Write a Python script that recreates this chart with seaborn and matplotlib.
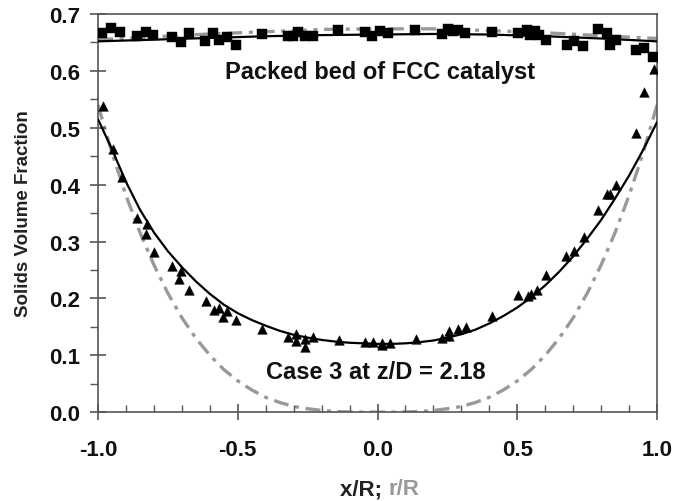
import matplotlib
matplotlib.use("Agg")
import matplotlib.pyplot as plt
from matplotlib.ticker import MultipleLocator, FixedLocator, FormatStrFormatter
import seaborn as sns

# ---- data ----
# packed bed of FCC catalyst (squares)
bed_x = [-0.985, -0.953, -0.921, -0.862, -0.829, -0.802, -0.736, -0.703, -0.673, -0.617,
         -0.587, -0.567, -0.540, -0.507, -0.414, -0.321, -0.301, -0.283, -0.259, -0.230,
         -0.140, -0.045, -0.019, 0.009, 0.039, 0.134, 0.229, 0.253, 0.271, 0.289,
         0.313, 0.409, 0.504, 0.534, 0.563, 0.546, 0.576, 0.603, 0.677, 0.703,
         0.736, 0.790, 0.820, 0.852, 0.832, 0.925, 0.953, 0.987]
bed_y = [0.666, 0.675, 0.668, 0.662, 0.668, 0.664, 0.660, 0.650, 0.667, 0.652,
         0.667, 0.654, 0.660, 0.646, 0.665, 0.662, 0.662, 0.668, 0.662, 0.662,
         0.672, 0.668, 0.662, 0.670, 0.666, 0.672, 0.665, 0.674, 0.670, 0.672,
         0.666, 0.668, 0.667, 0.672, 0.671, 0.664, 0.664, 0.655, 0.646, 0.652,
         0.643, 0.674, 0.667, 0.655, 0.646, 0.637, 0.641, 0.625]

# Case 3 at z/D = 2.18 (triangles)
case_x = [-0.981, -0.947, -0.915, -0.862, -0.826, -0.829, -0.800, -0.734, -0.703, -0.709,
          -0.673, -0.615, -0.585, -0.567, -0.554, -0.537, -0.506, -0.414, -0.321, -0.292,
          -0.292, -0.259, -0.259, -0.230, -0.137, -0.045, -0.015, 0.015, 0.015, 0.045,
          0.138, 0.230, 0.257, 0.257, 0.289, 0.317, 0.410, 0.502, 0.537, 0.549,
          0.571, 0.603, 0.674, 0.704, 0.740, 0.790, 0.820, 0.832, 0.852, 0.925,
          0.955, 0.988]
case_y = [0.538, 0.462, 0.414, 0.342, 0.330, 0.314, 0.282, 0.257, 0.248, 0.235,
          0.214, 0.195, 0.180, 0.183, 0.168, 0.178, 0.162, 0.147, 0.133, 0.138,
          0.125, 0.128, 0.115, 0.133, 0.127, 0.124, 0.124, 0.122, 0.118, 0.121,
          0.128, 0.131, 0.142, 0.134, 0.147, 0.149, 0.169, 0.206, 0.204, 0.207,
          0.215, 0.241, 0.275, 0.284, 0.308, 0.355, 0.384, 0.383, 0.399, 0.490,
          0.563, 0.604]

# model curves
curve_x = [-1.0, -0.95, -0.9, -0.85, -0.8, -0.75, -0.7, -0.65, -0.6, -0.55, -0.5,
           -0.45, -0.4, -0.35, -0.3, -0.25, -0.2, -0.15, -0.1, -0.05, 0.0,
           0.05, 0.1, 0.15, 0.2, 0.25, 0.3, 0.35, 0.4, 0.45, 0.5,
           0.55, 0.6, 0.65, 0.7, 0.75, 0.8, 0.85, 0.9, 0.95, 1.0]
case_fit = [0.515, 0.462, 0.405, 0.356, 0.316, 0.283, 0.255, 0.230, 0.208, 0.189, 0.174,
            0.162, 0.152, 0.143, 0.136, 0.131, 0.127, 0.124, 0.122, 0.121, 0.120,
            0.120, 0.121, 0.123, 0.126, 0.131, 0.137, 0.145, 0.156, 0.169, 0.184,
            0.202, 0.223, 0.247, 0.274, 0.305, 0.338, 0.376, 0.416, 0.461, 0.510]
case_radial = [0.540, 0.456, 0.381, 0.316, 0.259, 0.209, 0.166, 0.130, 0.100, 0.075, 0.055,
               0.039, 0.026, 0.017, 0.010, 0.006, 0.003, 0.001, 0.0003, 0.0, 0.0,
               0.0, 0.0003, 0.001, 0.003, 0.006, 0.010, 0.017, 0.026, 0.039, 0.055,
               0.075, 0.100, 0.130, 0.166, 0.209, 0.259, 0.316, 0.381, 0.456, 0.540]

bed_curve_x = [-1.0, -0.8, -0.6, -0.4, -0.2, 0.0, 0.2, 0.4, 0.6, 0.8, 1.0]
bed_fit = [0.652, 0.655, 0.658, 0.661, 0.663, 0.664, 0.665, 0.664, 0.661, 0.657, 0.652]
bed_radial = [0.655, 0.660, 0.665, 0.669, 0.673, 0.674, 0.674, 0.671, 0.667, 0.662, 0.657]

x_ticks = [-1.0, -0.5, 0.0, 0.5, 1.0]
y_ticks = [0.0, 0.1, 0.2, 0.3, 0.4, 0.5, 0.6, 0.7]

# ---- styling ----
sns.set_theme(style="white")
GRAY = "#999999"
SPINE = "#555555"
plt.rcParams.update({
    'font.family': ['Liberation Sans', 'DejaVu Sans'],
    'font.weight': 'bold',
    'axes.unicode_minus': False,
    'axes.linewidth': 1.2,
    'axes.edgecolor': SPINE,
    'axes.axisbelow': False,
    'xtick.bottom': True, 'ytick.left': True,
    'xtick.top': False, 'ytick.right': False,
    'xtick.color': SPINE, 'ytick.color': SPINE,
    'xtick.labelcolor': '#111111', 'ytick.labelcolor': '#111111',
    'xtick.major.size': 12, 'ytick.major.size': 12,
    'xtick.major.width': 1.2, 'ytick.major.width': 1.2,
    'xtick.minor.size': 5, 'ytick.minor.size': 6,
    'xtick.minor.width': 1.0, 'ytick.minor.width': 1.0,
})

dashdot = (0, (4.5, 2.0, 1.2, 2.0))

fig = plt.figure(figsize=(6.76, 5.02), dpi=100)
ax = fig.add_axes([0.145, 0.177, 0.827, 0.793])

sns.lineplot(x=curve_x, y=case_radial, ax=ax, color=GRAY, lw=2.4,
             linestyle=dashdot, estimator=None, sort=False, zorder=2)
sns.lineplot(x=bed_curve_x, y=bed_radial, ax=ax, color=GRAY, lw=2.4,
             linestyle=dashdot, estimator=None, sort=False, zorder=2)
sns.lineplot(x=curve_x, y=case_fit, ax=ax, color="black", lw=1.6,
             estimator=None, sort=False, zorder=3)
sns.lineplot(x=bed_curve_x, y=bed_fit, ax=ax, color="black", lw=1.6,
             estimator=None, sort=False, zorder=3)
sns.scatterplot(x=case_x, y=case_y, ax=ax, marker="^", color="black", s=48,
                edgecolor="black", linewidth=0.3, zorder=4)
sns.scatterplot(x=bed_x, y=bed_y, ax=ax, marker="s", color="black", s=44,
                edgecolor="black", linewidth=0.3, zorder=4)

ax.set_xlim(-1.0, 1.0)
ax.set_ylim(0.0, 0.7)
ax.xaxis.set_major_locator(FixedLocator(x_ticks))
ax.yaxis.set_major_locator(FixedLocator(y_ticks))
ax.xaxis.set_major_formatter(FormatStrFormatter("%.1f"))
ax.yaxis.set_major_formatter(FormatStrFormatter("%.1f"))
ax.xaxis.set_minor_locator(MultipleLocator(0.1))
ax.yaxis.set_minor_locator(MultipleLocator(0.05))

for side in ["left", "right", "top", "bottom"]:
    ax.spines[side].set_visible(True)

ax.tick_params(axis="both", which="both", bottom=True, left=True, top=False, right=False)
ax.tick_params(axis="both", which="major", direction="inout", length=12, width=1.2,
               color=SPINE, labelsize=16)
ax.tick_params(axis="y", which="major", pad=7)
ax.tick_params(axis="x", which="major", pad=13)
ax.tick_params(axis="x", which="minor", direction="in", length=5, width=1.0, color=SPINE)
ax.tick_params(axis="y", which="minor", direction="out", length=6, width=1.0, color=SPINE)

ax.set_ylabel("Solids Volume Fraction", fontsize=13.5, fontweight="bold", color="#222222")
ax.yaxis.set_label_coords(-0.118, 0.5)
ax.set_xlabel("")
fig.text(0.574, 0.024, "x/R; ", ha="right", va="center", fontsize=16,
         fontweight="bold", color="#222222")
fig.text(0.574, 0.024, "r/R", ha="left", va="center", fontsize=16,
         fontweight="bold", color=GRAY)

ax.text(0.01, 0.599, "Packed bed of FCC catalyst", ha="center", va="center",
        fontsize=17, fontweight="bold", color="#111111")
ax.text(-0.005, 0.072, "Case 3 at z/D = 2.18", ha="center", va="center",
        fontsize=17, fontweight="bold", color="#111111")

# make sure every tick mark is actually drawn
fig.canvas.draw()
for axis in (ax.xaxis, ax.yaxis):
    for tick in axis.get_major_ticks():
        tick.tick1line.set_visible(True)
        tick.tick1line.set_markersize(12)
        tick.tick1line.set_markeredgewidth(1.2)
        tick.tick1line.set_markeredgecolor(SPINE)
        tick.tick1line.set_clip_on(False)
        tick.tick1line.set_zorder(6)
        tick.tick1line.set_alpha(1.0)
    for tick in axis.get_minor_ticks():
        tick.tick1line.set_visible(True)
        tick.tick1line.set_markersize(5 if axis is ax.xaxis else 6)
        tick.tick1line.set_markeredgewidth(1.0)
        tick.tick1line.set_markeredgecolor(SPINE)
        tick.tick1line.set_clip_on(False)
        tick.tick1line.set_zorder(6)
        tick.tick1line.set_alpha(1.0)

fig.savefig("out.png", dpi=100, facecolor="white")
